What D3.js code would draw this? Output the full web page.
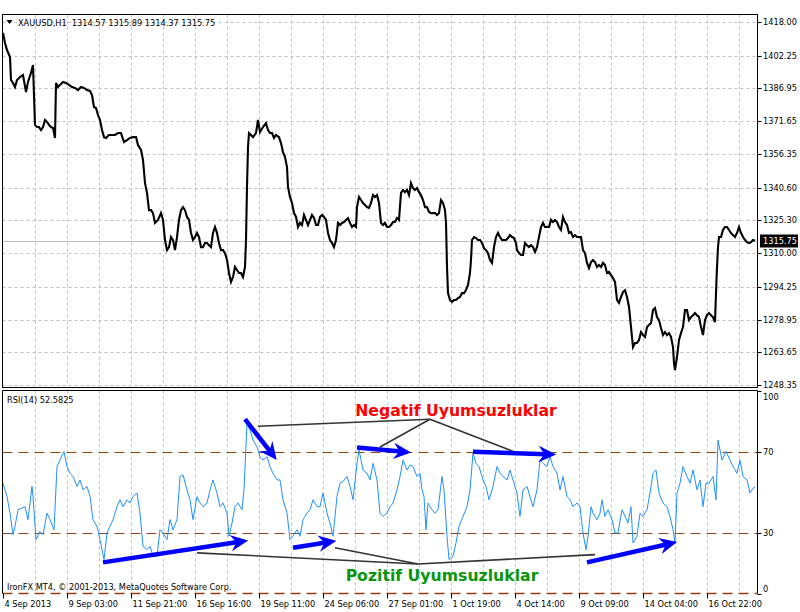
<!DOCTYPE html>
<html><head><meta charset="utf-8">
<script src="https://cdn.jsdelivr.net/npm/d3@7"></script>
<style>body{margin:0;background:#fff}svg{display:block}text{white-space:pre}</style>
</head><body>
<script>
// ---- data ----
const symbolTitle = "XAUUSD,H1  1314.57 1315.89 1314.37 1315.75";
const rsiTitle = "RSI(14) 52.5825";
const copyright = "IronFX MT4, \u00A9 2001-2013, MetaQuotes Software Corp.";
const lastPrice = 1315.75;
const priceTicks = [1418.00,1402.25,1386.95,1371.65,1356.35,1340.60,1325.30,1310.00,1294.25,1278.95,1263.65,1248.35];
const rsiTicks = [100,70,30,0];
const rsiLevels = [70,30];
const timeLabels = ["4 Sep 2013","9 Sep 03:00","11 Sep 21:00","16 Sep 16:00","19 Sep 11:00","24 Sep 06:00","27 Sep 01:00","1 Oct 19:00","4 Oct 14:00","9 Oct 09:00","14 Oct 04:00","16 Oct 22:00"];
const barsPerLabel = 64, barsPerGrid = 32, totalBars = 752;
// [bar index (hourly), close]
const priceSeries = [
[0,1412.9],[2,1408.2],[4,1404.9],[7,1401.6],[8,1390.9],[10,1389.5],[12,1387.6],[14,1390.9],[17,1392.3],[20,1393.2],[23,1385.3],[25,1390.0],[28,1394.2],[30,1397.9],
[32,1369.9],[34,1368.9],[36,1368.9],[38,1367.5],[40,1368.9],[42,1372.2],[44,1371.3],[46,1369.9],[48,1368.9],[50,1368.5],[52,1363.8],
[53,1389.5],[55,1387.6],[57,1388.6],[60,1390.0],[63,1389.5],[66,1388.6],[69,1387.6],[72,1387.2],[75,1386.2],[78,1387.6],[81,1387.2],[84,1386.2],[87,1385.8],[89,1383.9],
[91,1378.3],[93,1377.8],[95,1374.5],[97,1372.2],[99,1367.5],[101,1364.2],[103,1363.8],[106,1365.2],[109,1365.2],[112,1365.2],[115,1366.1],[118,1366.1],[121,1361.9],[124,1362.8],[127,1363.8],[130,1364.2],[133,1364.2],[135,1360.5],[138,1358.2],
[140,1353.5],[142,1342.7],[144,1338.1],[146,1330.1],[148,1330.1],[150,1328.7],[152,1324.1],[155,1325.5],[158,1328.7],[160,1325.5],[162,1316.1],[164,1311.4],[166,1312.8],[168,1317.5],[170,1316.1],[172,1311.4],[174,1317.5],
[176,1325.5],[178,1330.1],[180,1331.5],[182,1330.1],[184,1326.9],[186,1325.5],[188,1319.4],[190,1316.1],[192,1317.5],[194,1319.4],[196,1317.5],[198,1312.8],[200,1312.8],[202,1314.7],[204,1314.7],[206,1313.7],[208,1312.8],
[210,1319.4],[212,1322.2],[214,1319.4],[216,1314.7],[218,1311.4],[220,1311.4],[222,1310.0],[224,1306.8],[226,1300.7],[228,1296.5],[230,1298.8],[232,1303.5],[234,1302.1],[236,1300.7],[238,1300.7],[240,1298.8],[242,1303.5],
[243,1316.1],[244,1340.9],[245,1359.6],[246,1366.1],[248,1365.2],[250,1364.2],[253,1366.1],[255,1372.2],[257,1366.6],[260,1368.9],[263,1370.8],[265,1367.5],[267,1366.1],[269,1366.1],[271,1363.8],[273,1365.2],[276,1364.2],
[278,1361.4],[280,1357.2],[282,1354.9],[284,1350.2],[285,1340.9],[287,1336.2],[289,1333.4],[291,1328.7],[293,1326.9],[295,1322.2],[297,1324.1],[299,1323.1],[301,1327.8],[303,1325.5],[305,1323.1],[307,1325.5],[309,1327.8],
[311,1326.4],[313,1323.1],[315,1323.1],[317,1326.9],[319,1327.8],[321,1326.9],[323,1325.5],[325,1319.4],[327,1316.1],[329,1314.7],[331,1312.8],[333,1316.1],[335,1324.1],[337,1323.1],[339,1324.1],[341,1324.5],[343,1325.5],
[345,1326.4],[347,1324.1],[349,1322.2],[351,1323.1],[353,1322.2],[354,1331.5],[356,1336.2],[358,1334.8],[360,1333.4],[362,1332.5],[364,1331.5],[366,1331.1],[368,1333.4],[370,1337.1],[372,1336.2],[374,1337.1],[376,1333.4],
[378,1324.1],[380,1323.1],[382,1324.1],[384,1322.2],[386,1322.2],[388,1323.1],[390,1324.5],[392,1324.5],[394,1326.4],[396,1325.5],[398,1338.1],[400,1339.5],[402,1338.5],[404,1339.5],[406,1337.1],[408,1342.7],[410,1340.4],
[412,1339.5],[414,1340.4],[416,1338.5],[418,1337.1],[420,1334.8],[422,1331.5],[424,1331.5],[426,1329.2],[428,1328.7],[430,1328.7],[432,1328.7],[434,1327.8],[436,1328.7],[438,1334.8],[440,1333.4],[442,1330.1],[443,1324.1],
[444,1303.5],[445,1291.3],[447,1288.1],[449,1287.1],[451,1288.1],[453,1288.1],[455,1289.0],[457,1289.5],[459,1291.3],[461,1291.3],[463,1292.7],[465,1295.1],[467,1300.7],[468,1306.8],[469,1316.1],[471,1317.5],[473,1317.0],
[475,1316.1],[477,1316.1],[479,1314.7],[481,1312.3],[483,1311.4],[485,1310.0],[487,1306.8],[489,1305.4],[491,1312.8],[493,1317.5],[495,1319.4],[497,1317.5],[499,1316.1],[501,1316.1],[503,1316.1],[505,1317.0],[507,1318.4],
[509,1317.5],[511,1317.0],[513,1314.7],[514,1311.4],[516,1310.0],[518,1309.1],[520,1309.1],[522,1314.7],[524,1313.7],[526,1312.8],[528,1313.7],[530,1312.8],[532,1310.5],[534,1312.8],[536,1317.5],[538,1322.2],[540,1324.1],
[542,1322.2],[544,1322.2],[546,1322.2],[548,1325.5],[550,1324.5],[552,1325.5],[554,1324.5],[556,1322.2],[558,1320.8],[560,1326.9],[562,1324.5],[564,1323.1],[566,1319.4],[568,1319.8],[570,1317.5],[572,1318.4],[574,1317.5],
[576,1317.5],[578,1317.5],[580,1311.4],[582,1310.0],[584,1305.4],[586,1303.0],[588,1305.8],[590,1306.8],[592,1305.8],[594,1303.5],[596,1304.4],[598,1303.5],[600,1305.4],[602,1304.4],[604,1300.7],[606,1301.2],[608,1299.7],
[610,1298.3],[612,1296.5],[614,1288.1],[616,1286.7],[618,1289.5],[620,1291.8],[622,1292.7],[624,1289.5],[626,1284.8],[628,1275.4],[630,1266.1],[632,1268.0],[634,1268.0],[636,1269.4],[638,1273.1],[640,1271.7],[642,1270.8],
[644,1275.4],[646,1276.4],[648,1277.3],[650,1283.4],[652,1284.3],[654,1280.1],[656,1278.7],[658,1275.0],[660,1271.7],[662,1273.1],[664,1271.7],[666,1272.6],[668,1270.8],[670,1266.1],[671,1258.6],[672,1255.3],[674,1261.4],
[676,1269.4],[678,1272.6],[680,1275.4],[682,1283.4],[684,1283.4],[686,1278.7],[688,1280.1],[690,1281.0],[692,1282.0],[694,1281.0],[696,1280.1],[698,1275.4],[700,1271.7],[702,1278.7],[704,1281.0],[706,1282.0],[708,1281.0],
[710,1280.1],[712,1277.8],[713,1291.3],[714,1303.5],[715,1312.8],[716,1317.5],[718,1317.5],[720,1320.8],[722,1322.2],[724,1322.2],[726,1320.8],[728,1319.4],[730,1318.4],[732,1317.5],[734,1319.4],[736,1322.2],[738,1319.4],
[740,1317.5],[742,1316.1],[744,1315.1],[746,1314.7],[748,1315.1],[750,1316.1],[752,1315.75]
];
// [bar index, RSI(14)]
const rsiSeries = [
[0,54.6],[4,48],[7,39.8],[10,29.2],[12,33.3],[15,41.5],[19,42.3],[22,43],[25,36.6],[29,53],[30,48],[33,26.7],[37,30.8],[40,29.2],[44,39.8],[47,36.6],[51,31.6],[54,62.8],[57,66],[61,70.2],[64,62.8],[67,59.5],[70,57.9],[74,53],[77,56.2],[80,51.3],[84,53],[87,48],[90,36.6],[94,33.3],[97,26.7],[101,16.9],[104,30],[107,33.3],[110,36.6],[114,43],[117,46.4],[120,43],[124,46.4],[127,44.8],[130,48],[134,49.7],[137,39.8],[140,23.4],[144,21.8],[147,23.4],[150,18.5],[154,18.5],[157,31.6],[160,30],[164,26.7],[167,36.6],[170,31.6],[174,36.6],[177,57.9],[180,58.7],[184,51.3],[187,46.4],[190,36.6],[194,48],[197,44.8],[200,43],[204,44.8],[207,51.3],[210,56.2],[214,49.7],[217,43],[220,44.8],[224,39.8],[226,28.4],[229,34.9],[232,43],[235,44.8],[239,41.5],[241,51.3],[244,84.1],[247,80.8],[250,75.9],[254,72.6],[257,67.7],[260,66],[264,67.7],[267,62.8],[270,59.5],[274,56.2],[277,56.2],[280,46.4],[284,39.8],[287,26.7],[290,28.4],[294,31.6],[297,28.4],[300,36.6],[304,39.8],[307,41.5],[310,46.4],[314,43],[317,43],[320,49.7],[324,39.8],[327,34.9],[330,28.4],[334,48],[337,54.6],[340,55.4],[344,57.9],[347,53],[350,46.4],[354,64.4],[356,71],[360,61.1],[364,59.5],[367,56.2],[370,64.4],[374,56.2],[377,39.8],[380,38.2],[384,39.8],[387,43],[390,44.8],[394,51.3],[397,57.9],[400,66],[404,61.1],[407,63.6],[410,62.8],[414,57.9],[417,59.5],[419,51.3],[421,48],[423,31.6],[425,44.8],[429,41.5],[432,39.8],[435,41.5],[439,57.9],[441,51.3],[444,28.4],[446,16.9],[450,18.5],[453,25.1],[456,33.3],[460,38.2],[464,43],[467,51.3],[470,69.3],[473,64.4],[476,62.8],[480,56.2],[483,53],[486,46.4],[490,53],[494,62.8],[497,59.5],[500,57.9],[504,56.2],[507,61.1],[510,56.2],[514,49.7],[517,38.2],[520,51.3],[524,53],[527,48],[530,43],[534,51.3],[537,66],[540,64.4],[544,62.8],[547,67.7],[550,62.8],[554,59.5],[557,51.3],[560,57.9],[564,48],[567,46.4],[570,43],[574,44.8],[577,43],[580,30],[583,21.8],[585,28.4],[588,43],[590,39.8],[594,36.6],[597,39.8],[599,46.4],[602,38.2],[605,41.5],[609,36.6],[612,30],[615,30],[619,41.5],[622,38.2],[625,34.9],[628,43],[630,25.1],[634,28.4],[637,39.8],[640,38.2],[644,41.5],[647,49.7],[650,59.5],[653,61.1],[656,49.7],[660,44.8],[664,43],[667,38.2],[670,31.6],[672,25.1],[674,49.7],[677,54.6],[680,62.8],[684,57.9],[687,54.6],[690,61.1],[694,51.3],[697,56.2],[700,43],[703,54.6],[706,54.6],[710,57.9],[713,46.4],[715,75.9],[719,66],[723,70.2],[727,66],[730,62.8],[734,59.5],[737,66],[740,57.9],[744,56.2],[747,49.7],[750,52.1],[752,52.6]
];
// divergence annotations in (bar, RSI) space
const negArrows = [[[242,86.2],[273,66.5]],[[354,72.2],[407,69.8]],[[470,70.1],[552,68.8]]];
const posArrows = [[[100,15.5],[244,26.2]],[[290,22.7],[332,26.0]],[[584,15.5],[673,25.4]]];
const negHub = [427,86.2], negTargets = [[255,82.7],[377,72.5],[510,70.4]];
const posHub = [415,14.7], posTargets = [[194,20.2],[332,22.7],[592,19.3]];
const negLabel = {text:"Negatif Uyumsuzluklar", bar:453, rsi:87.7};
const posLabel = {text:"Pozitif Uyumsuzluklar", bar:439, rsi:6.3};

// ---- layout ----
const W = 800, H = 612;
const L = 2.5, R = 757.5, mainTop = 14.5, mainBot = 387.5, rsiTop = 390.5, rsiBot = 593.5;
const FONT = "'DejaVu Sans', Verdana, sans-serif";
const svg = d3.select("body").append("svg").attr("width", W).attr("height", H)
  .style("font-family", FONT);

const x = d3.scaleLinear().domain([0, totalBars]).range([3, 755]);
const yP = d3.scaleLinear().domain([1248.35, 1418]).range([385, 22]);
const yR = d3.scaleLinear().domain([0, 100]).range([593.75, 391.25]);

// vertical grid (both panels)
const gridBars = d3.range(barsPerGrid, totalBars, barsPerGrid);
const grid = svg.append("g").attr("stroke", "#c0c0c0").attr("stroke-dasharray", "3,3").attr("stroke-width", 1);
gridBars.forEach(b => {
  const gx = Math.round(x(b)) + 0.5;
  grid.append("line").attr("x1", gx).attr("x2", gx).attr("y1", mainTop).attr("y2", mainBot);
  grid.append("line").attr("x1", gx).attr("x2", gx).attr("y1", rsiTop).attr("y2", rsiBot);
});
priceTicks.forEach(v => {
  const gy = Math.round(yP(v)) + 0.5;
  grid.append("line").attr("x1", L).attr("x2", R).attr("y1", gy).attr("y2", gy);
});

// current price line
const cp = Math.round(yP(lastPrice)) + 0.5;
svg.append("line").attr("x1", L).attr("x2", R).attr("y1", cp).attr("y2", cp)
  .attr("stroke", "#c0c0c0").attr("stroke-width", 1);

// RSI levels
rsiLevels.forEach(v => {
  const ly = Math.round(yR(v)) + 0.5;
  svg.append("line").attr("x1", L).attr("x2", R).attr("y1", ly).attr("y2", ly)
    .attr("stroke", "#8b4513").attr("stroke-dasharray", "10,6").attr("stroke-width", 1);
});
svg.append("line").attr("x1", L).attr("x2", R).attr("y1", rsiBot).attr("y2", rsiBot)
  .attr("stroke", "#8b4513").attr("stroke-dasharray", "10,6").attr("stroke-width", 1.3);

// price path
svg.append("path").datum(priceSeries)
  .attr("d", d3.line().x(d => x(d[0])).y(d => yP(d[1])))
  .attr("fill", "none").attr("stroke", "#000").attr("stroke-width", 2.1);

// RSI path
svg.append("path").datum(rsiSeries)
  .attr("d", d3.line().x(d => x(d[0])).y(d => yR(d[1])))
  .attr("fill", "none").attr("stroke", "#1e90ff").attr("stroke-width", 1);

// connectors
const conn = svg.append("g").attr("stroke", "#333").attr("stroke-width", 1.6);
[[negHub, negTargets], [posHub, posTargets]].forEach(([hub, ts]) => {
  ts.forEach(t => conn.append("line")
    .attr("x1", x(hub[0])).attr("y1", yR(hub[1])).attr("x2", x(t[0])).attr("y2", yR(t[1])));
});

// arrows
function arrow(a) {
  const x1 = x(a[0][0]), y1 = yR(a[0][1]), x2 = x(a[1][0]), y2 = yR(a[1][1]);
  const ang = Math.atan2(y2 - y1, x2 - x1);
  const g = svg.append("g").attr("transform", `translate(${x2},${y2}) rotate(${ang * 180 / Math.PI})`);
  const len = Math.hypot(x2 - x1, y2 - y1);
  g.append("line").attr("x1", -len).attr("y1", 0).attr("x2", -9).attr("y2", 0)
    .attr("stroke", "#0000ff").attr("stroke-width", 4.5);
  g.append("path").attr("d", "M0,0 L-15,-7 L-10,0 L-15,7 Z").attr("fill", "#0000ff")
    .attr("stroke", "#0000ff").attr("stroke-width", 1).attr("stroke-linejoin", "miter");
}
negArrows.forEach(arrow);
posArrows.forEach(arrow);

// annotation labels
svg.append("text").attr("x", x(negLabel.bar)).attr("y", yR(negLabel.rsi)).attr("text-anchor", "middle")
  .attr("font-weight", "bold").attr("font-size", 15.7).attr("fill", "#ff0000").text(negLabel.text);
svg.append("text").attr("x", x(posLabel.bar)).attr("y", yR(posLabel.rsi)).attr("text-anchor", "middle")
  .attr("font-weight", "bold").attr("font-size", 15.7).attr("fill", "#0a960a").text(posLabel.text);

// borders
const b = svg.append("g").attr("stroke", "#000").attr("fill", "none").attr("stroke-width", 1);
b.append("rect").attr("x", L).attr("y", mainTop).attr("width", R - L).attr("height", mainBot - mainTop);
b.append("path").attr("d", `M${L},${rsiBot}V${rsiTop}H${R}V${rsiBot}`);

// price axis
const fs = 8.2;
const ax = svg.append("g").attr("font-size", fs).attr("fill", "#000");
priceTicks.forEach(v => {
  const ty = Math.round(yP(v)) + 0.5;
  ax.append("line").attr("x1", R).attr("x2", R + 4).attr("y1", ty).attr("y2", ty).attr("stroke", "#000");
  ax.append("text").attr("x", 763).attr("y", ty).attr("dy", "0.35em").text(v.toFixed(2));
});
svg.append("rect").attr("x", 760).attr("y", cp - 7).attr("width", 38).attr("height", 13).attr("fill", "#000");
svg.append("text").attr("x", 763).attr("y", cp).attr("dy", "0.35em").attr("font-size", fs)
  .attr("fill", "#fff").text(lastPrice.toFixed(2));

// RSI axis
rsiTicks.forEach(v => {
  const ty = Math.round(yR(v)) + 0.5;
  ax.append("line").attr("x1", R).attr("x2", R + 4).attr("y1", ty).attr("y2", ty).attr("stroke", "#000");
  let tyT = ty;
  if (v === 100) tyT = ty + 6; else if (v === 0) tyT = ty - 5;
  ax.append("text").attr("x", 763).attr("y", tyT).attr("dy", "0.35em").text(v);
});

// time axis
timeLabels.forEach((t, i) => {
  const tx = Math.round(x(i * barsPerLabel)) + 0.5;
  ax.append("line").attr("x1", tx).attr("x2", tx).attr("y1", rsiBot).attr("y2", rsiBot + 5).attr("stroke", "#000");
  ax.append("text").attr("x", tx + 1).attr("y", 607).text(t);
});

// titles
svg.append("path").attr("d", "M6.5,20 L12.5,20 L9.5,24 Z").attr("fill", "#000");
svg.append("text").attr("x", 18).attr("y", 26).attr("font-size", fs).text(symbolTitle);
svg.append("text").attr("x", 7).attr("y", 403).attr("font-size", fs).text(rsiTitle);
svg.append("text").attr("x", 7).attr("y", 590).attr("font-size", fs).text(copyright);
</script>
</body></html>
